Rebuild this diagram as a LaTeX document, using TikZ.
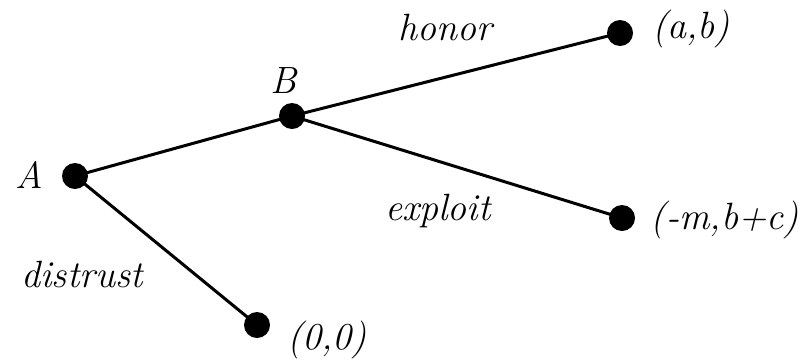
\documentclass[tikz,border=0pt]{standalone}
\usepackage{tikz}
\usetikzlibrary{positioning}
\tikzset{
  dot/.style={circle, fill=black, inner sep=0pt, minimum size=13pt},
  lbl/.style={font=\fontsize{19}{22}\selectfont\itshape, inner sep=0pt},
  edge/.style={line width=1.5pt}
}
\begin{document}
\begin{tikzpicture}[x=0.5pt,y=-0.5pt]
  \useasboundingbox (0,0) rectangle (806,360);
  % decision nodes and payoffs
  \node[dot] (A) at (75,176) {};
  \node[dot] (B) at (292,116) {};
  \node[dot] (ab) at (620,33) {};
  \node[dot] (mbc) at (622,218) {};
  \node[dot] (zero) at (257,325) {};
  \draw[edge] (A.center) -- (B.center);
  \draw[edge] (B.center) -- (ab.center);
  \draw[edge] (B.center) -- (mbc.center);
  \draw[edge] (A.center) -- (zero.center);
  % labels
  \node[lbl] (lA) at (29,175) {A};
  \node[lbl] (lB) at (284,81) {B};
  \node[lbl] (honor) at (445,27) {honor};
  \node[lbl] (exploit) at (438,211) {exploit};
  \node[lbl] (distrust) at (82,274) {distrust};
  \node[lbl] (pab) at (691,29) {(a,b)};
  \node[lbl] (pmbc) at (725,220) {(-m,b+c)};
  \node[lbl] (pzero) at (327,340) {(0,0)};
\end{tikzpicture}
\end{document}
